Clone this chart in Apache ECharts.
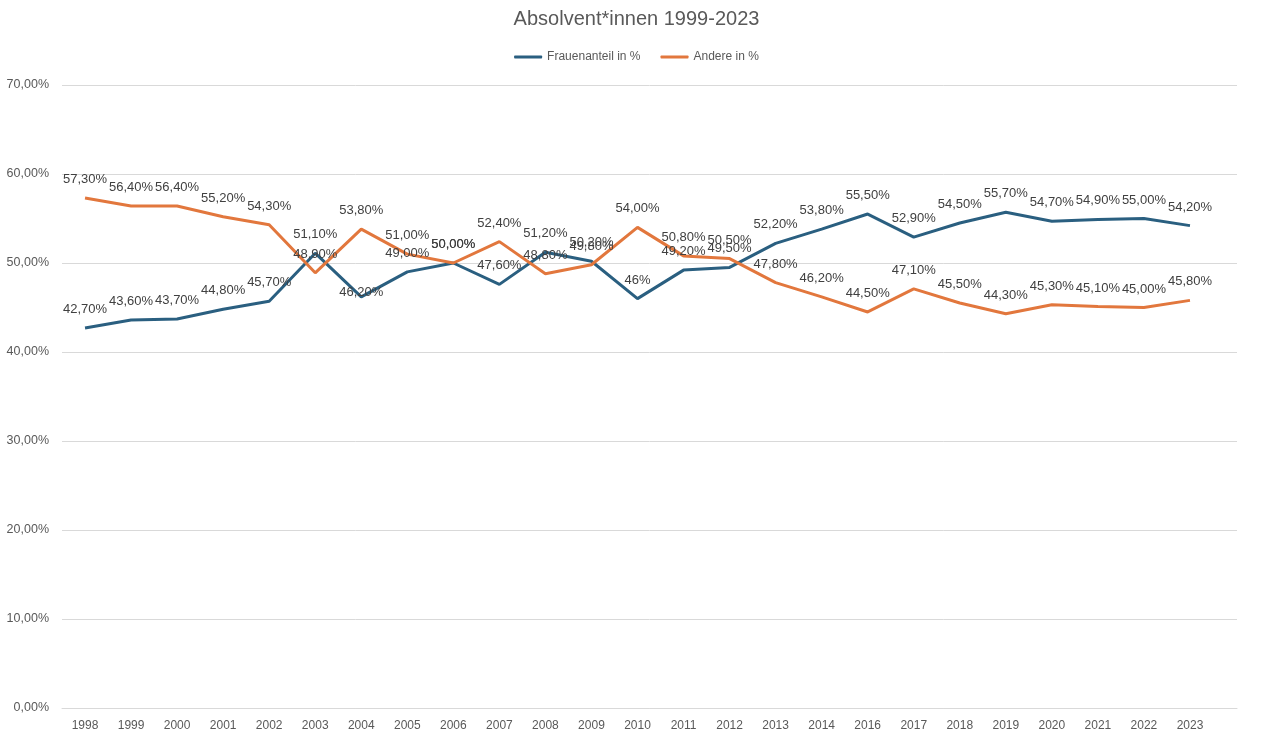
<!DOCTYPE html>
<html><head><meta charset="utf-8">
<script src="https://cdn.jsdelivr.net/npm/echarts@6/dist/echarts.min.js"></script>
<style>html,body{margin:0;padding:0;background:#fff}#c{width:1273px;height:742px}</style>
</head><body><div id="c"></div>
<script>
const titleText = 'Absolvent*innen 1999-2023';
const years = ['1998','1999','2000','2001','2002','2003','2004','2005','2006','2007','2008','2009','2010','2011','2012','2013','2014','2016','2017','2018','2019','2020','2021','2022','2023'];
const frauen = [42.7,43.6,43.7,44.8,45.7,51.1,46.2,49.0,50.0,47.6,51.2,50.2,46.0,49.2,49.5,52.2,53.8,55.5,52.9,54.5,55.7,54.7,54.9,55.0,54.2];
const andere = [57.3,56.4,56.4,55.2,54.3,48.9,53.8,51.0,50.0,52.4,48.8,49.8,54.0,50.8,50.5,47.8,46.2,44.5,47.1,45.5,44.3,45.3,45.1,45.0,45.8];
const frauenShort = ['2010']; // label shown without decimals in the original
const yTicks = [0,10,20,30,40,50,60,70];

const fmt = v => v.toFixed(2).replace('.', ',') + '%';
const chart = echarts.init(document.getElementById('c'));
const txt = '#404040';
const yMin = yTicks[0], yMax = yTicks[yTicks.length-1];
const frauenData = frauen.map((v, i) => years[i] === '2004'
  ? { value: v, label: { distance: -2 } } : v);
chart.setOption({
  animation: false,
  textStyle: { fontFamily: 'Liberation Sans, Arial, sans-serif' },
  title: { text: titleText, left: 'center', top: 4,
    textStyle: { fontSize: 20, fontWeight: 'normal', color: '#595959', fontFamily: 'Liberation Sans' } },
  legend: { top: 46, left: 'center', itemWidth: 28, itemHeight: 3, itemGap: 20,
    icon: 'roundRect',
    textStyle: { fontSize: 12, color: '#595959' },
    data: ['Frauenanteil in %', 'Andere in %'] },
  grid: [
    { left: 62, right: 36, top: 85, bottom: 34 },
    { left: 62, right: 60, top: 85, bottom: 34 }
  ],
  xAxis: [
    { gridIndex: 0, type: 'category', data: years, show: true,
      axisLine: { show: true, lineStyle: { color: '#d9d9d9', width: 1 } },
      axisTick: { show: false }, axisLabel: { show: false } },
    { gridIndex: 1, type: 'category', data: years, boundaryGap: true,
      axisLine: { show: false }, axisTick: { show: false },
      axisLabel: { color: '#595959', fontSize: 12, margin: 12 } }
  ],
  yAxis: [
    { gridIndex: 0, type: 'value', min: yMin, max: yMax, interval: 10,
      axisLine: { show: false }, axisTick: { show: false },
      splitLine: { lineStyle: { color: '#d9d9d9', width: 1 } },
      axisLabel: { color: '#595959', fontSize: 12.5, margin: 13, formatter: v => v.toFixed(2).replace('.', ',') + '%' } },
    { gridIndex: 1, type: 'value', min: yMin, max: yMax, interval: 10, show: false,
      splitLine: { show: false } }
  ],
  series: [
    { name: 'Frauenanteil in %', type: 'line', data: frauenData, xAxisIndex: 1, yAxisIndex: 1,
      symbol: 'circle', symbolSize: 0.1, showSymbol: true,
      lineStyle: { color: '#2a5f80', width: 3 }, itemStyle: { color: '#2a5f80' },
      label: { show: true, position: 'top', distance: 12, color: txt, fontSize: 13,
        formatter: p => frauenShort.includes(p.name) ? Math.round(p.value) + '%' : fmt(p.value) } },
    { name: 'Andere in %', type: 'line', data: andere, xAxisIndex: 1, yAxisIndex: 1,
      symbol: 'circle', symbolSize: 0.1, showSymbol: true,
      lineStyle: { color: '#e2773d', width: 3 }, itemStyle: { color: '#e2773d' },
      label: { show: true, position: 'top', distance: 12, color: txt, fontSize: 13,
        formatter: p => fmt(p.value) } }
  ]
});
</script></body></html>
